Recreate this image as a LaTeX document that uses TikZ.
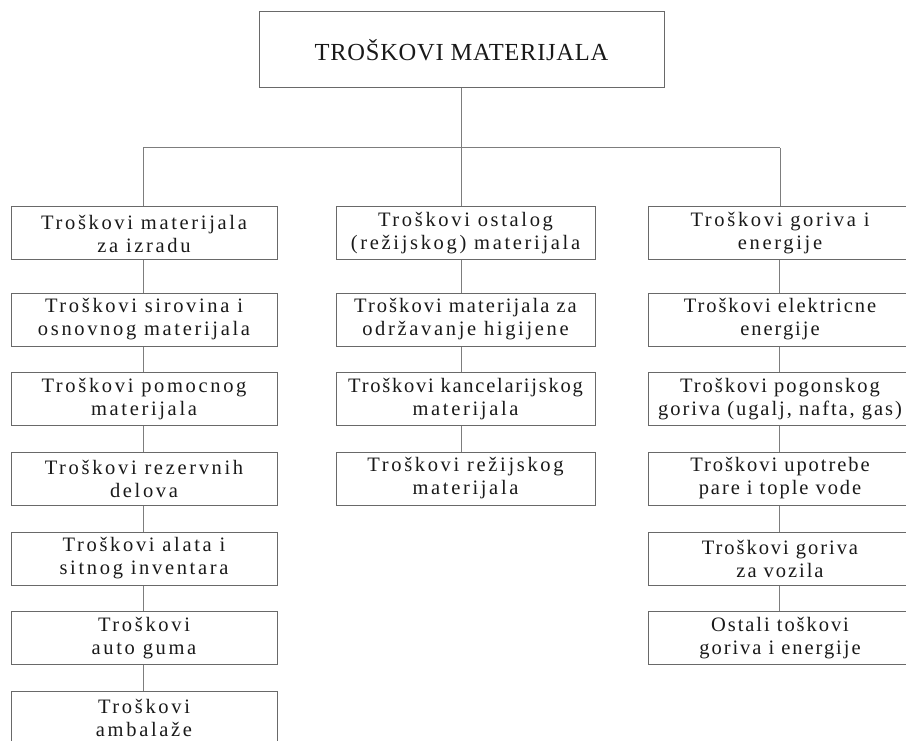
\documentclass[tikz,border=0pt]{standalone}
\usepackage{fontspec}
\setmainfont{Liberation Serif}
\newfontfamily\boxfont[LetterSpace=13]{Liberation Serif}
\newfontfamily\rfont[LetterSpace=9.5]{Liberation Serif}
\newfontfamily\titlefont[LetterSpace=3]{Liberation Serif}
\newcommand\lsp[2]{{\addfontfeature{LetterSpace=#1}#2}}
\definecolor{linegray}{RGB}{125,125,125}
\definecolor{boxgray}{RGB}{105,105,105}
\definecolor{txt}{RGB}{25,25,25}
\begin{document}
\begin{tikzpicture}[x=1pt,y=-1pt,
  box/.style={draw=boxgray, line width=1pt, inner sep=0pt, align=center,
    minimum height=53pt, text=txt, font=\boxfont\fontsize{20.5}{23}\selectfont},
  lbox/.style={box, minimum width=266pt},
  mbox/.style={box, minimum width=259pt},
  rbox/.style={box, minimum width=264pt, font=\rfont\fontsize{20.5}{23}\selectfont},
  titlebox/.style={draw=boxgray, line width=1pt, minimum width=405pt, minimum height=76pt,
    inner sep=0pt, text=txt, font=\titlefont\fontsize{24.5}{28}\selectfont},
  conn/.style={draw=linegray, line width=1pt}]
\useasboundingbox (0,0) rectangle (906,741);
\clip (0,0) rectangle (906,741);

\node[titlebox] (top) at (461.5,50) {TROŠKOVI MATERIJALA};

% left column
\node[lbox] (l1) at (144,233.5) {Troškovi materijala\\za izradu};
\node[lbox] (l2) at (144,319.5) {Troškovi sirovina i\\osnovnog materijala};
\node[lbox] (l3) at (144,399) {Troškovi pomocnog\\materijala};
\node[lbox] (l4) at (144,478.5) {Troškovi rezervnih\\delova};
\node[lbox] (l5) at (144,558.5) {Troškovi alata i\\sitnog inventara};
\node[lbox] (l6) at (144,638) {Troškovi\\auto guma};
\node[lbox] (l7) at (144,717.5) {Troškovi\\ambalaže};

% middle column
\node[mbox] (m1) at (465.5,233) {Troškovi ostalog\\(režijskog) materijala};
\node[mbox] (m2) at (465.5,319.5) {\lsp{10}{Troškovi materijala za}\\održavanje higijene};
\node[mbox] (m3) at (465.5,399) {\lsp{8.5}{Troškovi kancelarijskog}\\materijala};
\node[mbox] (m4) at (465.5,478.5) {Troškovi režijskog\\materijala};

% right column
\node[rbox] (r1) at (780,233) {\lsp{13}{Troškovi goriva i}\\\lsp{13}{energije}};
\node[rbox] (r2) at (780,319.5) {Troškovi elektricne\\energije};
\node[rbox] (r3) at (780,399) {Troškovi pogonskog\\goriva (ugalj, nafta, gas)};
\node[rbox] (r4) at (780,478.5) {Troškovi upotrebe\\pare i tople vode};
\node[rbox] (r5) at (780,558.5) {Troškovi goriva\\za vozila};
\node[rbox] (r6) at (780,638) {Ostali toškovi\\goriva i energije};

% connectors
\coordinate (hl) at (143,148);
\coordinate (hr) at (780,148);
\draw[conn] (top.south) -- (top.south |- m1.north);
\draw[conn] (hl) -- (hr);
\draw[conn] (hl) -- (hl |- l1.north);
\draw[conn] (hr) -- (r1.north);

\foreach \a/\b in {l1/l2,l2/l3,l3/l4,l4/l5,l5/l6,l6/l7,r1/r2,r2/r3,r3/r4,r4/r5,r5/r6}
  \draw[conn] ([xshift=-1pt]\a.south) -- ([xshift=-1pt]\b.north);
\foreach \a/\b in {m1/m2,m2/m3,m3/m4}
  \draw[conn] (top.south |- \a.south) -- (top.south |- \b.north);
\end{tikzpicture}
\end{document}
